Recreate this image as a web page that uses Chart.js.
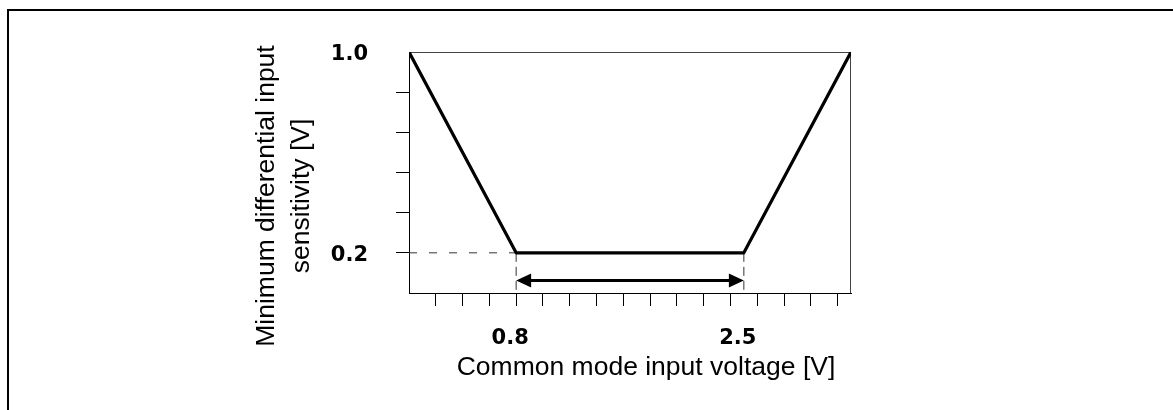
<!DOCTYPE html>
<html>
<head>
<meta charset="utf-8">
<script src="https://cdn.jsdelivr.net/npm/chart.js@4/dist/chart.umd.min.js"></script>
<style>
  html, body { margin: 0; padding: 0; background: #fff; overflow: hidden; }
  #wrap { position: relative; width: 1173px; height: 410px; }
  #frame { position: absolute; left: 7px; top: 9px; width: 1200px; height: 440px;
           border-top: 2px solid #000; border-left: 2px solid #000; box-sizing: border-box; }
  canvas { position: absolute; left: 0; top: 0; }
</style>
</head>
<body>
<div id="wrap">
  <div id="frame"></div>
  <canvas id="c" width="1173" height="410"></canvas>
</div>
<script>
// Sensitivity curve: common mode input voltage [V] vs. minimum differential input sensitivity [V]
const voltage = [0, 0.8, 2.5, 3.3];
const sensitivity = [1.0, 0.2, 0.2, 1.0];

// Axis ranges and ticks
const xRange = [0, 3.3];
const yRange = [0.04, 1.0];
const xTickValues = [0.2, 0.4, 0.6, 0.8, 1.0, 1.2, 1.4, 1.6, 1.8, 2.0, 2.2, 2.4, 2.6, 2.8, 3.0, 3.2];
const xTickLabels = [0.8, 2.5];
const yTickValues = [0.2, 0.36, 0.52, 0.68, 0.84, 1.0];
const yTickLabels = [0.2, 1.0];

// Operating range arrow (common mode window) and its level
const arrowSpan = [0.8, 2.5];
const arrowLevel = 0.09;

const xTitle = 'Common mode input voltage [V]';
const yTitle = ['Minimum differential input', 'sensitivity [V]'];

const near = (a, b) => Math.abs(a - b) < 1e-6;
const isLabel = (list, v) => list.some(t => near(t, v));

const uniq = (arr) => arr.filter((v, i) => arr.findIndex(w => near(w, v)) === i).sort((a, b) => a - b);

const tickFont = { family: '"DejaVu Sans", sans-serif', size: 21, weight: 'bold' };
const titleFont = '26.5px "Liberation Sans", Arial, sans-serif';

const decorations = {
  id: 'decorations',
  beforeDatasetsDraw(chart) {
    const { ctx, chartArea: a } = chart;
    ctx.save();
    ctx.strokeStyle = '#444';
    ctx.lineWidth = 1;
    ctx.beginPath();
    ctx.moveTo(a.left, Math.round(a.top) + 0.5);
    ctx.lineTo(a.right, Math.round(a.top) + 0.5);
    ctx.moveTo(Math.round(a.right) - 0.5, a.top);
    ctx.lineTo(Math.round(a.right) - 0.5, a.bottom);
    ctx.stroke();
    ctx.restore();
  },
  afterDatasetsDraw(chart) {
    const { ctx } = chart;
    const xs = chart.scales.x, ys = chart.scales.y;
    const x1 = xs.getPixelForValue(arrowSpan[0]);
    const x2 = xs.getPixelForValue(arrowSpan[1]);
    const y = ys.getPixelForValue(arrowLevel);
    const head = 15, half = 7;
    ctx.save();
    ctx.strokeStyle = '#000';
    ctx.fillStyle = '#000';
    ctx.lineWidth = 3;
    ctx.beginPath();
    ctx.moveTo(x1 + head - 1, y);
    ctx.lineTo(x2 - head + 1, y);
    ctx.stroke();
    ctx.beginPath();
    ctx.moveTo(x1, y);
    ctx.lineTo(x1 + head, y - half);
    ctx.lineTo(x1 + head, y + half);
    ctx.closePath();
    ctx.fill();
    ctx.beginPath();
    ctx.moveTo(x2, y);
    ctx.lineTo(x2 - head, y - half);
    ctx.lineTo(x2 - head, y + half);
    ctx.closePath();
    ctx.fill();
    ctx.restore();
  },
  afterDraw(chart) {
    const { ctx } = chart;
    ctx.save();
    ctx.fillStyle = '#000';
    ctx.font = titleFont;
    ctx.textAlign = 'center';
    ctx.textBaseline = 'alphabetic';
    ctx.fillText(xTitle, 646, 375);
    ctx.translate(0, 196);
    ctx.rotate(-Math.PI / 2);
    ctx.fillText(yTitle[0], 0, 274);
    ctx.fillText(yTitle[1], 0, 309);
    ctx.restore();
  }
};

new Chart(document.getElementById('c'), {
  type: 'line',
  data: {
    datasets: [
      {
        data: voltage.map((v, i) => ({ x: v, y: sensitivity[i] })),
        borderColor: '#000',
        borderWidth: 3.2,
        borderJoinStyle: 'round',
        pointRadius: 0,
        tension: 0
      },
      {
        data: [{ x: xRange[0], y: sensitivity[1] }, { x: voltage[1], y: sensitivity[1] }],
        borderColor: '#333',
        borderWidth: 1,
        borderDash: [8, 12],
        pointRadius: 0
      },
      {
        data: [{ x: voltage[1], y: sensitivity[1] }, { x: voltage[1], y: yRange[0] }],
        borderColor: '#333',
        borderWidth: 1,
        borderDash: [9, 5],
        pointRadius: 0
      },
      {
        data: [{ x: voltage[2], y: sensitivity[2] }, { x: voltage[2], y: yRange[0] }],
        borderColor: '#333',
        borderWidth: 1,
        borderDash: [9, 5],
        pointRadius: 0
      }
    ]
  },
  options: {
    responsive: false,
    animation: false,
    devicePixelRatio: 1,
    layout: { padding: { left: 0, right: 322, top: 52, bottom: 0 } },
    plugins: { legend: { display: false }, tooltip: { enabled: false } },
    scales: {
      x: {
        type: 'linear',
        min: xRange[0],
        max: xRange[1],
        afterBuildTicks: s => { s.ticks = uniq(xTickValues.concat(xTickLabels)).map(v => ({ value: v })); },
        afterFit: s => { s.height = 117; },
        border: { display: true, color: '#000', width: 1 },
        grid: {
          drawOnChartArea: false,
          drawTicks: true,
          tickLength: 13,
          tickWidth: 1,
          tickColor: c => (near(c.tick.value, 2.5) ? 'rgba(0,0,0,0)' : '#000')
        },
        ticks: {
          autoSkip: false,
          maxRotation: 0,
          padding: 20,
          labelOffset: -6,
          color: '#000',
          font: tickFont,
          callback: v => (isLabel(xTickLabels, v) ? v.toFixed(1) : '')
        }
      },
      y: {
        type: 'linear',
        min: yRange[0],
        max: yRange[1],
        afterBuildTicks: s => { s.ticks = yTickValues.map(v => ({ value: v })); },
        afterFit: s => { s.width = 409; },
        border: { display: true, color: '#000', width: 1 },
        grid: {
          drawOnChartArea: false,
          drawTicks: true,
          tickLength: 13,
          tickWidth: 1,
          tickColor: c => (near(c.tick.value, 1.0) ? 'rgba(0,0,0,0)' : '#000')
        },
        ticks: {
          autoSkip: false,
          padding: 28,
          labelOffset: 3,
          color: '#000',
          font: tickFont,
          callback: v => (isLabel(yTickLabels, v) ? v.toFixed(1) : '')
        }
      }
    }
  },
  plugins: [decorations]
});
</script>
</body>
</html>
